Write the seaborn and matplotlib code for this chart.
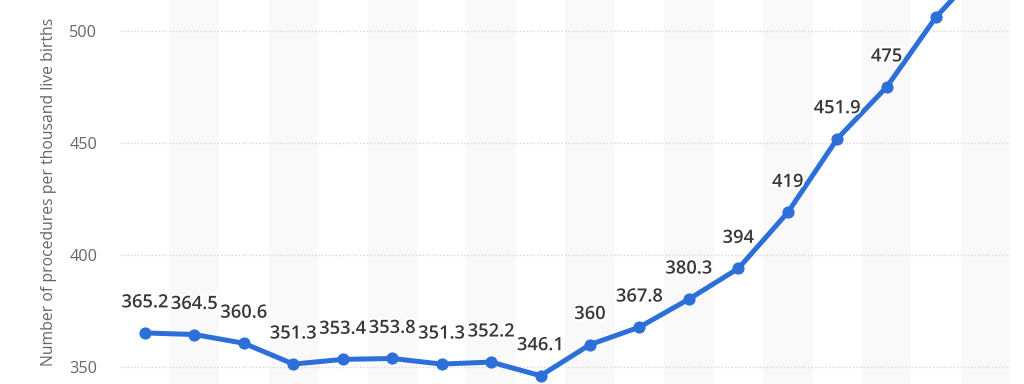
import matplotlib
matplotlib.use("Agg")
import matplotlib.pyplot as plt
import matplotlib.patheffects as pe
import seaborn as sns
import pandas as pd

years = [str(y) for y in range(2000, 2018)]
values = [365.2, 364.5, 360.6, 351.3, 353.4, 353.8, 351.3, 352.2, 346.1,
          360.0, 367.8, 380.3, 394.0, 419.0, 451.9, 475.0, 506.3, 530.0]
labels = ["365.2", "364.5", "360.6", "351.3", "353.4", "353.8", "351.3", "352.2",
          "346.1", "360", "367.8", "380.3", "394", "419", "451.9", "475", "506.3", "530"]
yticks = [350, 400, 450, 500]
ylabel = "Number of procedures per thousand live births"

sns.set_style("white")
plt.rcParams['font.family'] = ['Open Sans', 'DejaVu Sans']

df = pd.DataFrame({"year": years, "value": values, "idx": range(len(years))})

fig = plt.figure(figsize=(10.24, 3.84), dpi=100)
ax = fig.add_axes([120.3 / 1024, 0, 890 / 1024, 1])

line_color = "#2d6fd9"
ymin, ymax = 350 - 17 / 2.24, 500 + 31 / 2.24

# alternating background bands
for i in range(len(years)):
    if i % 2 == 1:
        ax.axvspan(i - 0.5, i + 0.5, color="#f9f9f9", zorder=0, lw=0)

for t in yticks:
    ax.axhline(t, color="#d6d6d6", lw=1, ls=(0, (1, 1.5)), zorder=1)

sns.lineplot(data=df, x="idx", y="value", ax=ax, color=line_color, lw=3.6,
             marker="o", markersize=8, markeredgecolor=line_color, zorder=3)

for i, (v, lab) in enumerate(zip(values, labels)):
    # labels of points whose label lies above the visible area are not drawn
    if v + 30 / 2.24 + 8 / 2.24 > ymax:
        continue
    ax.annotate(lab, (i, v), xytext=(0, 22), textcoords="offset points",
                ha="center", va="center", fontsize=13.2, color="#383838",
                fontweight="semibold", zorder=4,
                path_effects=[pe.withStroke(linewidth=3, foreground="white")])

ax.set_xlim(-0.5, len(years) - 0.5)
ax.set_ylim(ymin, ymax)
ax.set_yticks(yticks)
ax.set_yticklabels([str(t) for t in yticks], fontsize=11.7, color="#666666")
ax.tick_params(axis="y", length=0, pad=16.5)
ax.set_xticks([])
ax.set_xlabel("")
ax.set_ylabel(ylabel, fontsize=11.3, color="#666666", labelpad=9)
for s in ax.spines.values():
    s.set_visible(False)

fig.savefig("out.png", dpi=100)
